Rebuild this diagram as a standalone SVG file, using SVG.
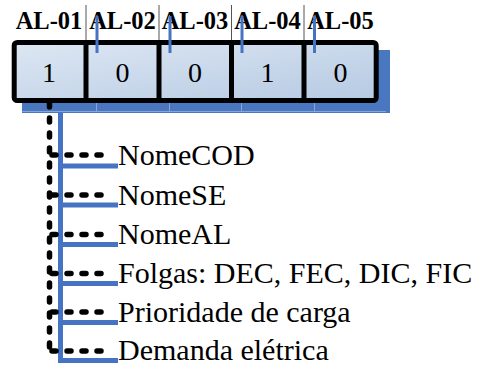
<svg xmlns="http://www.w3.org/2000/svg" width="477" height="365" viewBox="0 0 477 365">
<defs>
<linearGradient id="cellg" x1="0" y1="0" x2="1" y2="1">
<stop offset="0" stop-color="#dde7f3"/>
<stop offset="1" stop-color="#b6cae3"/>
</linearGradient>
<style>
.hdr{font-family:"Liberation Serif","Times New Roman",serif;font-weight:bold;font-size:24.5px;fill:#000;text-anchor:middle}
.dig{font-family:"Liberation Serif","Times New Roman",serif;font-size:28px;fill:#000;text-anchor:middle}
.lbl{font-family:"Liberation Serif","Times New Roman",serif;font-size:30px;fill:#000}
.sep{stroke:#555;stroke-width:1}
.tick{stroke:#4674c2;stroke-width:3}
.blue{stroke:#4674c2;stroke-width:5;fill:none}
.dash{stroke:#000;stroke-width:5.5;stroke-linecap:round;stroke-dasharray:4 11;fill:none}
.faint{stroke:#86a5da;stroke-width:1;fill:none}
</style>
</defs>
<rect width="477" height="365" fill="#fff"/>
<g id="shadow">
<rect x="22" y="50" width="368" height="63" fill="#4a78c0"/>
<path class="faint" d="M22 111.5H386M96.5 103V111.5M169.5 103V111.5M241.5 103V111.5M314.5 103V111.5"/>
</g>
<g id="array">
<rect x="14.2" y="42.5" width="362" height="58" rx="3" fill="url(#cellg)" stroke="#000" stroke-width="5"/>
<path d="M86 42V101M159 42V101M231.5 42V101M304 42V101" stroke="#000" stroke-width="5"/>
</g>
<g id="separators">
<path class="sep" d="M86 5V40M159 5V40M231.5 5V40M304 5V40"/>
</g>
<g id="AL-01"><text class="hdr" x="49" y="29">AL-01</text><text class="dig" x="49" y="82">1</text></g>
<g id="AL-02"><text class="hdr" x="122.5" y="29">AL-02</text><text class="dig" x="122.5" y="82">0</text></g>
<g id="AL-03"><text class="hdr" x="195" y="29">AL-03</text><text class="dig" x="195" y="82">0</text></g>
<g id="AL-04"><text class="hdr" x="267.5" y="29">AL-04</text><text class="dig" x="267.5" y="82">1</text></g>
<g id="AL-05"><text class="hdr" x="340.5" y="29">AL-05</text><text class="dig" x="340.5" y="82">0</text></g>
<g id="ticks">
<path class="tick" d="M97 16V53M170 16V53M242 16V53M314.5 16V53"/>
</g>
<g id="connectors">
<path class="blue" d="M60.5 113V363M58 166H118M58 205H118M58 244.5H118M58 283.5H118M58 322.5H118M58 360.5H118"/>
<path class="dash" d="M49.5 103V351"/>
<path class="dash" d="M52 155H107M52 195H107M52 234.5H107M52 273.5H107M52 312H107M52 351H107"/>
</g>
<g id="NomeCOD"><text class="lbl" x="118" y="165">NomeCOD</text></g>
<g id="NomeSE"><text class="lbl" x="118" y="204.5">NomeSE</text></g>
<g id="NomeAL"><text class="lbl" x="118" y="243.5">NomeAL</text></g>
<g id="Folgas"><text class="lbl" x="118" y="282.5">Folgas: DEC, FEC, DIC, FIC</text></g>
<g id="Prioridade"><text class="lbl" x="118" y="321.5">Prioridade de carga</text></g>
<g id="Demanda"><text class="lbl" x="118" y="360">Demanda elétrica</text></g>
</svg>
